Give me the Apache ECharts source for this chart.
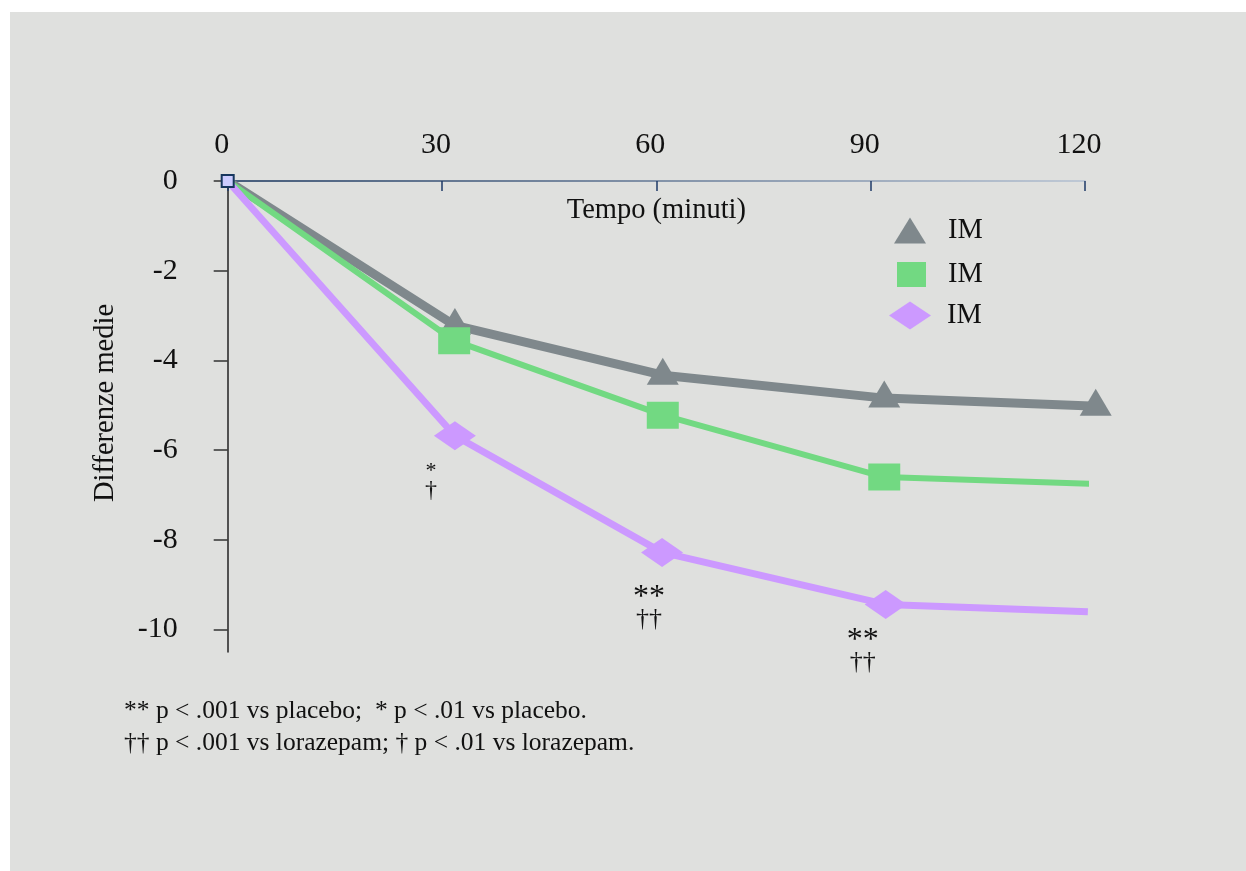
<!DOCTYPE html>
<html>
<head>
<meta charset="utf-8">
<script src="https://cdn.jsdelivr.net/npm/echarts@6/dist/echarts.min.js"></script>
<style>
  body { margin: 0; background: #ffffff; }
  #bg { position: absolute; left: 10px; top: 12px; width: 1236px; height: 859px; background: #dfe0de; }
  #chart { position: absolute; left: 0; top: 0; width: 1246px; height: 871px; }
</style>
</head>
<body>
<div id="bg"></div>
<div id="chart"></div>
<script>
// dati
var xTicks = [0, 30, 60, 90, 120];
var yTicks = [0, -2, -4, -6, -8, -10];

var timeGray = [0, 31.8, 60.9, 91.9, 121.5];
var valGray = [0, -3.22, -4.33, -4.84, -5.02];

var timeGreen = [0, 31.7, 60.9, 91.9, 121.2];
var valGreen = [0, -3.56, -5.22, -6.6, -6.75];

var timePurple = [0, 31.8, 60.8, 92.1, 120.4];
var valPurple = [0, -5.68, -8.28, -9.44, -9.6];

var stars = ["", "*", "**", "**", ""];
var daggers = ["", "\u2020", "\u2020\u2020", "\u2020\u2020", ""];
var footnotes = [
  "** p < .001 vs placebo;  * p < .01 vs placebo.",
  "\u2020\u2020 p < .001 vs lorazepam; \u2020 p < .01 vs lorazepam."
];

var serif = "'Liberation Serif', 'Times New Roman', serif";
var chart = echarts.init(document.getElementById("chart"));

function pairs(xs, ys) {
  return xs.map(function (x, i) { return [x, ys[i]]; });
}

var grayData = pairs(timeGray, valGray);
grayData[0] = { value: grayData[0], symbol: "none" };

var greenData = pairs(timeGreen, valGreen);
greenData[0] = { value: greenData[0], symbol: "none" };
greenData[4] = { value: greenData[4], symbol: "none" };

// asterischi / croci sotto i punti del gruppo viola
var labelOffsets = [null, [-24, 45], [-13, 56], [-23, 47], null];
var labelFonts = [null, [22, 24, 19], [32, 26, 21], [32, 26, 21], null];
var purpleData = pairs(timePurple, valPurple).map(function (p, i) {
  var item = { value: p };
  if (stars[i]) {
    var f = labelFonts[i];
    item.label = {
      show: true,
      position: "inside",
      offset: labelOffsets[i],
      formatter: "{s|" + stars[i] + "}\n{d|" + daggers[i] + "}",
      rich: {
        s: { fontFamily: serif, fontSize: f[0], lineHeight: f[2], color: "#111" },
        d: { fontFamily: serif, fontSize: f[1], lineHeight: f[2], color: "#111" }
      }
    };
  }
  return item;
});
// punto di partenza
purpleData[0] = {
  value: purpleData[0].value,
  symbol: "rect",
  symbolSize: 12,
  itemStyle: { color: "#ccccff", borderColor: "#17375e", borderWidth: 2 }
};
purpleData[4].symbol = "none";

function legendFor(name, icon, left, top, w, h, gap) {
  return {
    data: [{ name: name, icon: icon }],
    orient: "vertical",
    left: left,
    top: top,
    itemWidth: w,
    itemHeight: h,
    padding: 0,
    selectedMode: false,
    formatter: function (n) { return n.split("-")[0]; },
    textStyle: { fontFamily: serif, fontSize: 28.5, color: "#111", padding: [0, 0, 0, gap] }
  };
}

var option = {
  animation: false,
  backgroundColor: "transparent",
  grid: { left: 227.7, top: 181, width: 857.3, height: 471 },
  legend: [
    legendFor("IM-a", "triangle", 894, 216, 32, 26, 17),
    legendFor("IM-b", "rect", 897, 260, 29, 25, 17),
    legendFor("IM-c", "diamond", 889, 301, 42, 28, 11)
  ],
  xAxis: {
    type: "value",
    position: "top",
    min: 0,
    max: 120,
    interval: 30,
    name: "Tempo (minuti)",
    nameLocation: "middle",
    nameGap: -44,
    nameTextStyle: { fontFamily: serif, fontSize: 28.5, color: "#111" },
    axisLine: {
      lineStyle: {
        width: 1.5,
        color: new echarts.graphic.LinearGradient(0, 0, 1, 0, [
          { offset: 0, color: "#14305a" },
          { offset: 1, color: "#b4c0d2" }
        ])
      }
    },
    axisTick: { inside: true, length: 10, lineStyle: { color: "#1f3a68", width: 1.5 } },
    axisLabel: { fontFamily: serif, fontSize: 30, color: "#111", margin: 21, padding: [0, 12, 0, 0] },
    splitLine: { show: false }
  },
  yAxis: {
    type: "value",
    min: -10.5,
    max: 0,
    offset: 4,
    axisLine: { show: true, lineStyle: { color: "#222", width: 1.5 } },
    axisTick: { show: true, customValues: yTicks, length: 14, lineStyle: { color: "#333", width: 1.5 } },
    axisLabel: { customValues: yTicks, fontFamily: serif, fontSize: 30, color: "#111", margin: 46 },
    splitLine: { show: false }
  },
  graphic: [
    {
      type: "text",
      x: 106,
      y: 403,
      rotation: Math.PI / 2,
      style: { text: "Differenze medie", fontFamily: serif, fontSize: 28.5, fill: "#111", align: "center", verticalAlign: "middle" }
    },
    {
      type: "text",
      x: 124,
      y: 695,
      style: { text: footnotes.join("\n"), fontFamily: serif, fontSize: 25.5, lineHeight: 32, fill: "#111", align: "left", verticalAlign: "top" }
    }
  ],
  series: [
    {
      name: "IM-a",
      type: "line",
      data: grayData,
      clip: false,
      symbol: "triangle",
      symbolSize: [32, 27],
      symbolOffset: [0, -4],
      color: "#7f888c",
      lineStyle: { width: 9, color: "#7f888c" },
      itemStyle: { color: "#7f888c" }
    },
    {
      name: "IM-b",
      type: "line",
      data: greenData,
      clip: false,
      symbol: "rect",
      symbolSize: [32, 27],
      color: "#72d982",
      lineStyle: { width: 6, color: "#72d982" },
      itemStyle: { color: "#72d982" }
    },
    {
      name: "IM-c",
      type: "line",
      data: purpleData,
      clip: false,
      symbol: "diamond",
      symbolSize: [42, 29],
      color: "#cc99ff",
      lineStyle: { width: 7, color: "#cc99ff" },
      itemStyle: { color: "#cc99ff" }
    }
  ]
};

chart.setOption(option);
</script>
</body>
</html>
